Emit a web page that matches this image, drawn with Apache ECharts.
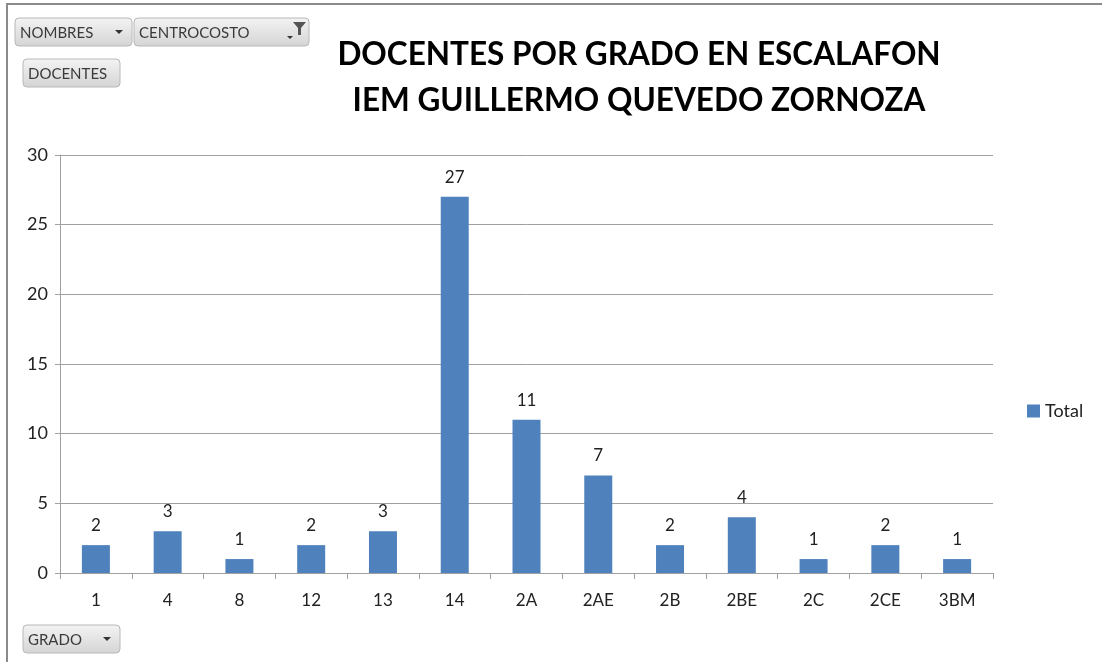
<!DOCTYPE html>
<html>
<head>
<meta charset="utf-8">
<script src="https://cdn.jsdelivr.net/npm/echarts@6/dist/echarts.min.js"></script>
<style>
  html, body { margin: 0; padding: 0; background: #fff; }
  #chart { width: 1102px; height: 662px; }
</style>
</head>
<body>
<div id="chart"></div>
<script>
// datos del grafico
const grados = ['1', '4', '8', '12', '13', '14', '2A', '2AE', '2B', '2BE', '2C', '2CE', '3BM']
const totales = [2, 3, 1, 2, 3, 27, 11, 7, 2, 4, 1, 2, 1]
const titulo = 'DOCENTES POR GRADO EN ESCALAFON\nIEM GUILLERMO QUEVEDO ZORNOZA'

const FONT = 'Lato, "Open Sans", sans-serif'

// boton estilo pivot de excel
function boton(x, y, w, h, texto, icono) {
  const hijos = [
    {
      type: 'rect',
      shape: { x: 0, y: 0, width: w, height: h, r: 4 },
      style: {
        fill: new echarts.graphic.LinearGradient(0, 0, 0, 1, [
          { offset: 0, color: '#f4f4f4' },
          { offset: 1, color: '#d4d4d4' }
        ]),
        stroke: '#b8b8b8', lineWidth: 1
      }
    },
    {
      type: 'text',
      style: { x: 5, y: h / 2 + 1, text: texto, fill: '#3a3a3a', font: '15px ' + FONT, verticalAlign: 'middle' }
    }
  ]
  if (icono === 'drop') {
    hijos.push({
      type: 'polygon',
      shape: { points: [[w - 17, h / 2 - 2], [w - 9, h / 2 - 2], [w - 13, h / 2 + 2]] },
      style: { fill: '#333' }
    })
  } else if (icono === 'filtro') {
    hijos.push({
      type: 'polygon',
      shape: { points: [[w - 16, 4], [w - 3, 4], [w - 8, 10], [w - 8, 17], [w - 11, 17], [w - 11, 10]] },
      style: { fill: '#555' }
    })
    hijos.push({
      type: 'polygon',
      shape: { points: [[w - 22, 18], [w - 16, 18], [w - 19, 21]] },
      style: { fill: '#333' }
    })
  }
  return { type: 'group', x: x, y: y, children: hijos }
}

const chart = echarts.init(document.getElementById('chart'))

chart.setOption({
  backgroundColor: '#fff',
  animation: false,
  textStyle: { fontFamily: FONT },
  title: {
    text: titulo,
    left: 634,
    top: 27,
    textAlign: 'center',
    textStyle: { fontSize: 31.5, fontWeight: 'bold', color: '#000', lineHeight: 46, fontFamily: FONT }
  },
  legend: {
    data: ['Total'],
    orient: 'vertical',
    left: 1022,
    top: 397,
    itemWidth: 13,
    itemHeight: 13,
    itemGap: 6,
    icon: 'rect',
    textStyle: { fontSize: 18, color: '#222' }
  },
  grid: { left: 60, right: 109, top: 155, bottom: 89, containLabel: false },
  xAxis: {
    type: 'category',
    data: grados,
    axisLine: { lineStyle: { color: '#a0a0a0', width: 1 } },
    axisTick: { show: true, length: 6, inside: false, lineStyle: { color: '#a0a0a0' } },
    axisLabel: { fontSize: 17, color: '#222', margin: 19 }
  },
  yAxis: {
    type: 'value',
    min: 0,
    max: 30,
    interval: 5,
    axisLine: { show: true, lineStyle: { color: '#a0a0a0' } },
    axisTick: { show: true, length: 5, lineStyle: { color: '#a0a0a0' } },
    axisLabel: { fontSize: 18, color: '#222', margin: 12 },
    splitLine: { lineStyle: { color: '#a0a0a0', width: 1 } }
  },
  series: [{
    name: 'Total',
    type: 'bar',
    data: totales,
    barWidth: 28,
    itemStyle: { color: '#4f81bd' },
    label: { show: true, position: 'top', distance: 11, fontSize: 17, color: '#222' }
  }],
  graphic: [
    {
      type: 'rect',
      shape: { x: 7, y: 4, width: 1200, height: 700 },
      style: { fill: 'none', stroke: '#8a8a8a', lineWidth: 2 },
      silent: true
    },
    boton(15, 18, 117, 28, 'NOMBRES', 'drop'),
    boton(134, 18, 175, 28, 'CENTROCOSTO', 'filtro'),
    boton(23, 59, 97, 28, 'DOCENTES'),
    boton(23, 625, 97, 28, 'GRADO', 'drop')
  ]
})
</script>
</body>
</html>
